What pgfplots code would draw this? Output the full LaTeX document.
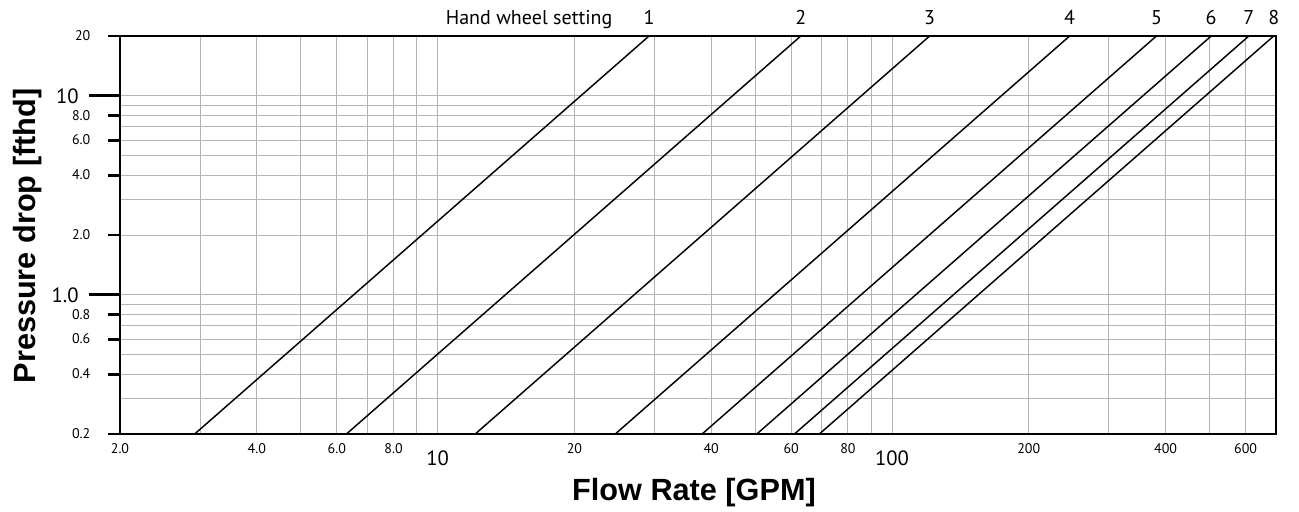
\documentclass[border=0pt]{standalone}
\usepackage{fontspec}
\setmainfont{PT Sans}
\newfontfamily\labfont{Liberation Sans}
\usepackage{pgfplots}
\pgfplotsset{compat=1.18}
\usetikzlibrary{calc}
\definecolor{gridc}{RGB}{180,180,180}
\begin{document}
\begin{tikzpicture}
\begin{axis}[name=ax, at={(0,0)}, anchor=south west,
  scale only axis, width=867pt, height=298.5pt,
  xmode=log, ymode=log, xmin=2, xmax=700, ymin=0.2, ymax=20,
  clip mode=individual,
  separate axis lines,
  axis line style={line width=2.2pt, black, line cap=rect},
  every outer x axis line/.append style={line width=2.2pt, black, line cap=rect},
  every outer y axis line/.append style={line width=2.2pt, black, line cap=rect},
  tick align=outside, xtick pos=bottom, ytick pos=left,
  xtick={2,4,6,8,20,40,60,80,200,400,600},
  xticklabels={2.0,4.0,6.0,8.0,20,40,60,80,200,400,600},
  extra x ticks={10,100}, extra x tick labels={10,100},
  xtick style={draw=none},
  xticklabel style={yshift=5pt},
  extra x tick style={xtick style={draw=none}, xticklabel style={font=\fontsize{15.5}{15.5}\selectfont, yshift=-5pt}},
  ytick={0.2,0.4,0.6,0.8,2,4,6,8,20},
  yticklabels={0.2,0.4,0.6,0.8,2.0,4.0,6.0,8.0,20},
  yticklabel style={xshift=-9.75pt},
  extra y ticks={1,10}, extra y tick labels={1.0,10},
  ytick style={line width=2.2pt, black},
  major tick length=9pt, minor tick length=0pt,
  extra y tick style={major tick length=23pt, ytick style={line width=2.2pt, black}, yticklabel style={font=\fontsize{15.5}{15.5}\selectfont, xshift=5.25pt}},
  ticklabel style={font=\fontsize{10.5}{10.5}\selectfont},
  minor xtick={3,4,5,6,7,8,9,10,20,30,40,50,60,70,80,90,100,200,300,400,500,600},
  minor ytick={0.3,0.4,0.5,0.6,0.7,0.8,0.9,1,2,3,4,5,6,7,8,9,10},
  xminorgrids=true, yminorgrids=true, xmajorgrids=false, ymajorgrids=false,
  minor grid style={gridc, line width=0.75pt},
  xlabel={Flow Rate [GPM]}, ylabel={Pressure drop [fthd]},
  xlabel style={at={(axis description cs:0.4965,-0.168)}, anchor=base, font=\labfont\bfseries\fontsize{23}{23}\selectfont},
  ylabel style={at={(axis description cs:-0.0735,0.4975)}, anchor=base, font=\labfont\bfseries\fontsize{23}{23}\selectfont},
]
\addplot[black, line width=1.1pt] coordinates {(2.92,0.2) (29.2,20)};
\addplot[black, line width=1.1pt] coordinates {(6.3,0.2) (63,20)};
\addplot[black, line width=1.1pt] coordinates {(12.1,0.2) (121,20)};
\addplot[black, line width=1.1pt] coordinates {(24.6,0.2) (246,20)};
\addplot[black, line width=1.1pt] coordinates {(38.2,0.2) (382,20)};
\addplot[black, line width=1.1pt] coordinates {(50.4,0.2) (504,20)};
\addplot[black, line width=1.1pt] coordinates {(61,0.2) (610,20)};
\addplot[black, line width=1.1pt] coordinates {(69.2,0.2) (692,20)};
\node[anchor=base east, font=\fontsize{15}{15}\selectfont, yshift=9pt] at (rel axis cs:0.43,1) {Hand wheel setting};
\node[anchor=base, font=\fontsize{15}{15}\selectfont, yshift=9pt] at (axis cs:29.2,20) {1};
\node[anchor=base, font=\fontsize{15}{15}\selectfont, yshift=9pt] at (axis cs:63,20) {2};
\node[anchor=base, font=\fontsize{15}{15}\selectfont, yshift=9pt] at (axis cs:121,20) {3};
\node[anchor=base, font=\fontsize{15}{15}\selectfont, yshift=9pt] at (axis cs:246,20) {4};
\node[anchor=base, font=\fontsize{15}{15}\selectfont, yshift=9pt] at (axis cs:382,20) {5};
\node[anchor=base, font=\fontsize{15}{15}\selectfont, yshift=9pt] at (axis cs:504,20) {6};
\node[anchor=base, font=\fontsize{15}{15}\selectfont, yshift=9pt] at (axis cs:610,20) {7};
\node[anchor=base, font=\fontsize{15}{15}\selectfont, yshift=9pt] at (axis cs:692,20) {8};
\end{axis}
\path (ax.south west) ++(-90pt,-55.5pt) rectangle ($(ax.north east)+(17.25pt,27pt)$);
\end{tikzpicture}
\end{document}
